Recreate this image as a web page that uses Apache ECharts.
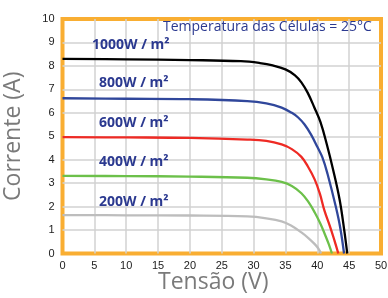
<!DOCTYPE html>
<html>
<head>
<meta charset="utf-8">
<script src="https://cdn.jsdelivr.net/npm/echarts@6/dist/echarts.min.js"></script>
<style>
  html, body { margin: 0; padding: 0; background: #fff; }
  #chart { width: 388px; height: 298px; }
</style>
</head>
<body>
<div id="chart"></div>
<script>
// curvas I-V: [tensao, corrente]
var curve1000 = [[0,8.30],[10,8.28],[20,8.25],[28,8.20],[31,8.12],[33,8.02],[35,7.85],[36.5,7.6],[37.5,7.3],[38.5,6.85],[39.5,6.25],[40.5,5.6],[41.5,4.65],[42.5,3.55],[43.5,2.3],[44.2,1.05],[44.7,0]];
var curve800 = [[0,6.62],[10,6.60],[20,6.58],[29,6.5],[32,6.4],[34.4,6.22],[36,6.0],[37,5.8],[38,5.5],[39,5.08],[40,4.55],[40.8,4.1],[41.6,3.4],[42.9,2.0],[43.6,1.1],[44.2,0]];
var curve600 = [[0,4.96],[10,4.95],[20,4.93],[29,4.86],[32,4.8],[34.4,4.65],[36,4.45],[37.5,4.12],[38.5,3.72],[39.6,3.15],[40.4,2.55],[41.1,1.85],[42,1.15],[42.7,0.55],[43.3,0]];
var curve400 = [[0,3.31],[10,3.30],[20,3.28],[29,3.23],[32,3.16],[34.4,3.05],[36,2.88],[37.5,2.57],[38.6,2.2],[39.6,1.75],[40.4,1.32],[41.1,0.88],[41.8,0.4],[42.3,0]];
var curve200 = [[0,1.64],[10,1.63],[20,1.62],[29,1.58],[32,1.5],[34.4,1.37],[36,1.17],[37.5,0.9],[38.6,0.66],[39.6,0.4],[40.2,0.2],[40.6,0]];

var curveNames = ['1000W / m²', '800W / m²', '600W / m²', '400W / m²', '200W / m²'];
var curveColors = ['#000000', '#30479b', '#ee2a24', '#6cc04a', '#bdbdbd'];
var curves = [curve1000, curve800, curve600, curve400, curve200];

var titleText = 'Temperatura das Células = 25°C';
var xName = 'Tensão (V)';
var yName = 'Corrente (A)';

var chart = echarts.init(document.getElementById('chart'));

var labelPos = [[92, 38], [99, 76], [99, 116], [99, 155], [99, 195]];

var graphics = [];
curveNames.forEach(function (n, i) {
  graphics.push({
    type: 'text', left: labelPos[i][0], top: labelPos[i][1], z: 10,
    style: { text: n, fill: '#2b3990', font: 'bold 14px "Open Sans", sans-serif' }
  });
});
graphics.push({
  type: 'text', left: 163, top: 20, z: 10,
  style: { text: titleText, fill: '#2b3990', font: '14px "Open Sans", sans-serif' }
});
graphics.push({
  type: 'text', left: 158, top: 271,
  style: { text: xName, fill: '#7a7a7a', font: '23px "Open Sans", sans-serif' }
});

var gridLine = { showMinLine: false, showMaxLine: false, lineStyle: { color: '#d2d2d2', width: 1.5 } };

chart.setOption({
  animation: false,
  grid: {
    left: 62.5, right: 7, top: 19, bottom: 44.5,
    outerBoundsMode: 'none', containLabel: false,
    show: true, borderColor: '#f9ae32', borderWidth: 4
  },
  xAxis: {
    type: 'value', min: 0, max: 50, interval: 5,
    axisLine: { show: false }, axisTick: { show: false },
    axisLabel: { fontSize: 11, color: '#222', margin: 7, fontFamily: 'Liberation Sans' },
    splitLine: gridLine
  },
  yAxis: {
    type: 'value', min: 0, max: 10, interval: 1,
    name: yName, nameLocation: 'middle', nameGap: 38,
    nameTextStyle: { fontSize: 23, color: '#7a7a7a', fontFamily: 'Open Sans' },
    axisLine: { show: false }, axisTick: { show: false },
    axisLabel: { fontSize: 11, color: '#222', margin: 8, fontFamily: 'Liberation Sans' },
    splitLine: gridLine
  },
  graphic: graphics,
  series: curves.map(function (c, i) {
    return {
      type: 'line', name: curveNames[i], data: c, smooth: 0.4,
      showSymbol: false, lineStyle: { color: curveColors[i], width: 2.3 }
    };
  })
});
</script>
</body>
</html>
